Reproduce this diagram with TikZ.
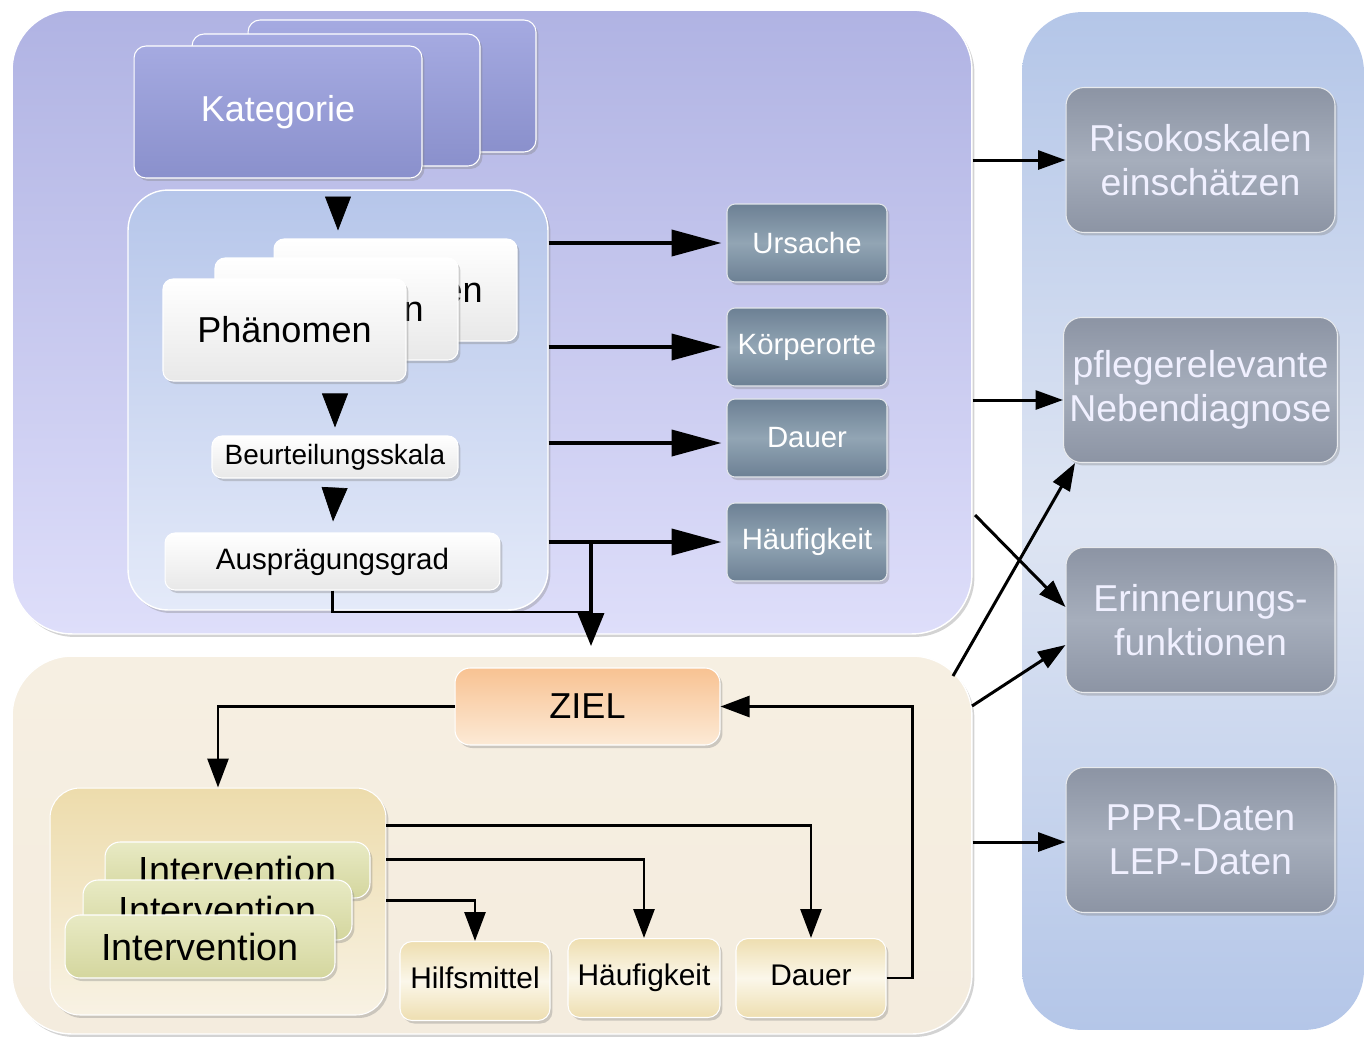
\documentclass[tikz,border=0pt]{standalone}
\usepackage{fontspec}
\setmainfont{Liberation Sans}
\usepackage{tikz}
\usetikzlibrary{arrows.meta, positioning, shadows, calc}

\definecolor{topA}{RGB}{176,179,227}
\definecolor{topB}{RGB}{222,222,250}
\definecolor{innA}{RGB}{182,198,234}
\definecolor{innB}{RGB}{228,234,249}
\definecolor{katA}{RGB}{165,170,225}
\definecolor{katB}{RGB}{138,144,204}
\definecolor{slateA}{RGB}{108,128,148}
\definecolor{slateB}{RGB}{146,165,180}
\definecolor{rightA}{RGB}{180,198,232}
\definecolor{rightB}{RGB}{222,229,243}
\definecolor{greyA}{RGB}{140,148,164}
\definecolor{greyB}{RGB}{166,174,188}
\definecolor{botA}{RGB}{246,239,226}
\definecolor{botB}{RGB}{244,236,222}
\definecolor{zielA}{RGB}{248,194,146}
\definecolor{zielB}{RGB}{252,234,214}
\definecolor{ivA}{RGB}{237,220,172}
\definecolor{ivB}{RGB}{248,242,228}
\definecolor{intA}{RGB}{232,234,196}
\definecolor{intB}{RGB}{212,214,158}
\definecolor{sumA}{RGB}{238,222,176}
\definecolor{sumB}{RGB}{251,247,234}

\begin{document}
\begin{tikzpicture}[x=0.02cm, y=-0.02cm,
  shad/.style={drop shadow={opacity=0.35, shadow xshift=0.05cm, shadow yshift=-0.06cm}},
  panel/.style={rounded corners=1.2cm, inner sep=0},
  katbox/.style={shad, draw=white, line width=0.6pt, rounded corners=0.24cm, top color=katA, bottom color=katB,
    minimum width=5.76cm, minimum height=2.64cm, text=white, font=\fontsize{20.5}{24}\selectfont},
  whitebox/.style={shad, draw=white, line width=0.6pt, rounded corners=0.2cm, top color=white, bottom color=black!9, inner sep=0},
  phenbox/.style={whitebox, minimum width=4.86cm, minimum height=2.04cm, font=\fontsize{20.5}{24}\selectfont},
  slatebox/.style={shad, draw=white!80!slateA, line width=0.6pt, rounded corners=0.16cm, top color=slateA, bottom color=slateA, middle color=slateB,
    minimum width=3.2cm, minimum height=1.56cm, text=white, font=\fontsize{16.7}{20}\selectfont},
  greybox/.style={shad, draw=white!80!greyA, line width=0.6pt, rounded corners=0.36cm, top color=greyA, bottom color=greyA, middle color=greyB,
    minimum width=5.38cm, minimum height=2.9cm, align=center, text=white!94!blue, font=\fontsize{21.3}{25}\selectfont},
  intbox/.style={shad, draw=white, line width=0.6pt, rounded corners=0.3cm, top color=intA, bottom color=intB, inner sep=0,
    font=\fontsize{21.5}{25}\selectfont},
  sumbox/.style={shad, draw=white, line width=0.6pt, rounded corners=0.24cm, top color=sumA, bottom color=sumA, middle color=sumB,
    minimum width=3cm, minimum height=1.58cm, text height=12pt, text depth=3pt, font=\fontsize{17}{20}\selectfont},
  tri/.style={-{Triangle[length=0.68cm, width=0.52cm]}},
  bigarr/.style={line width=2.3pt, -{Triangle[length=1cm, width=0.52cm]}},
  arr/.style={line width=1.6pt, -{Triangle[length=0.58cm, width=0.42cm]}},
  rarr/.style={line width=1.7pt, -{Triangle[length=0.55cm, width=0.38cm]}}
]
\useasboundingbox (0,0) rectangle (1366,1036);

% panels
\node[panel, minimum width=6.84cm, minimum height=20.36cm, top color=rightA, bottom color=rightA, middle color=rightB] (right) at (1193,521) {};
\node[panel, shad, minimum width=19.2cm, minimum height=12.48cm, draw=white, line width=0.8pt, top color=topA, bottom color=topB] (top) at (492,322) {};
\node[panel, shad, minimum width=19.2cm, minimum height=7.56cm, draw=white, line width=0.8pt, top color=botA, bottom color=botB] (bot) at (492,845) {};

% Kategorie
\node[katbox] (katB) at (392,86) {};
\node[katbox] (katM) at (336,100) {};
\node[katbox] (kat) at (278,112) {Kategorie};

% Phaenomen block
\node[shad, draw=white, line width=0.8pt, rounded corners=0.8cm, top color=innA, bottom color=innB,
  minimum width=8.4cm, minimum height=8.4cm] (inner) at (338,400) {};
\node[phenbox] (phenB) at (395.5,290) {Phänomen};
\node[phenbox] (phenM) at (336.5,309) {Phänomen};
\node[phenbox] (phen) at (284.5,330) {Phänomen};
\node[whitebox, minimum width=4.92cm, minimum height=0.84cm, font=\fontsize{15.9}{18}\selectfont] (bskala) at (335,457) {Beurteilungsskala};
\node[whitebox, minimum width=6.7cm, minimum height=1.14cm, font=\fontsize{16.8}{20}\selectfont] (agrad) at (332.5,561.5) {Ausprägungsgrad};

\draw[tri, shorten <=0.4cm, shorten >=0.16cm] (kat.south -| inner.north) -- (phenB.north -| inner.north);
\draw[tri, shorten <=0.28cm, shorten >=0.16cm] (phen.south -| bskala.north) -- (bskala.north);
\draw[tri, shorten <=0.2cm, shorten >=0.22cm] (bskala.south) -- (agrad.north);

% Merkmale
\node[slatebox] (ursache) at (807,243) {Ursache};
\node[slatebox] (koerper) at (807,347) {Körperorte};
\node[slatebox] (dauerA) at (807,438) {Dauer};
\node[slatebox] (haeufA) at (807,542) {Häufigkeit};

\draw[bigarr, shorten >=0.1cm] (inner.east |- ursache) -- (ursache.west);
\draw[bigarr, shorten >=0.1cm] (inner.east |- koerper) -- (koerper.west);
\draw[bigarr, shorten >=0.1cm] ($(inner.east |- dauerA)+(0,5)$) -- ($(dauerA.west)+(0,5)$);
\draw[bigarr, shorten >=0.1cm] (inner.east |- haeufA) -- (haeufA.west);

\coordinate (split) at (591,542);
\coordinate (merge) at (591,612);
\coordinate (zin) at (591,646);
\draw[line width=1.2pt] (agrad.south) |- (merge);
\draw[line width=2pt, -{Triangle[length=0.66cm, width=0.52cm]}] (split) -- (zin);

% Ziel und Interventionen
\node[shad, draw=white, line width=0.6pt, rounded corners=0.3cm, top color=zielA, bottom color=zielB,
  minimum width=5.3cm, minimum height=1.54cm, font=\fontsize{20.5}{24}\selectfont] (ziel) at (587.5,706.5) {ZIEL};
\node[shad, draw=white, line width=0.6pt, rounded corners=0.6cm, top color=ivA, bottom color=ivB,
  minimum width=6.72cm, minimum height=4.54cm] (interv) at (218,901.5) {};
\node[intbox, minimum width=5.3cm, minimum height=1.12cm] (intB) at (237.5,870) {Intervention};
\node[intbox, minimum width=5.38cm, minimum height=1.2cm] (intM) at (217.5,910) {Intervention};
\node[intbox, minimum width=5.4cm, minimum height=1.26cm] (int) at (200,946.5) {Intervention};

\node[sumbox] (hilfs) at (475,981) {Hilfsmittel};
\node[sumbox, minimum width=3.04cm] (haeufB) at (644,978) {Häufigkeit};
\node[sumbox] (dauerB) at (811,978) {Dauer};

\draw[arr] (ziel.west) -| (interv.north);
\draw[arr] ($(interv.north east)+(0,38)$) -| (dauerB.north);
\draw[arr] ($(interv.north east)+(0,72)$) -| (haeufB.north);
\draw[arr] ($(interv.north east)+(0,113)$) -| (hilfs.north);
\draw[arr] (dauerB.east) -- ++(26,0) |- (ziel.east);

% Auswertungen
\node[greybox] (risk) at (1200.5,160) {Risokoskalen\\einschätzen};
\node[greybox] (nebdiag) at (1200.5,390) {pflegerelevante\\Nebendiagnose};
\node[greybox] (erinn) at (1200.5,620) {Erinnerungs-\\funktionen};
\node[greybox] (ppr) at (1200.5,840) {PPR-Daten\\LEP-Daten};

\coordinate (d1) at (975,515);
\coordinate (d2) at (953,676);
\coordinate (d3) at (972,706);
\draw[rarr] (top.east |- risk) -- (risk.west);
\draw[rarr] ($(top.east |- nebdiag)+(0,10)$) -- ($(nebdiag.west)+(0,10)$);
\draw[rarr] (d1) -- ($(erinn.west)+(0,-13)$);
\draw[rarr] (d2) -- ($(nebdiag.south west)+(12,0)$);
\draw[rarr] (d3) -- ($(erinn.west)+(0,25)$);
\draw[rarr] ($(bot.east |- ppr)+(0,2)$) -- ($(ppr.west)+(0,2)$);
\end{tikzpicture}
\end{document}
